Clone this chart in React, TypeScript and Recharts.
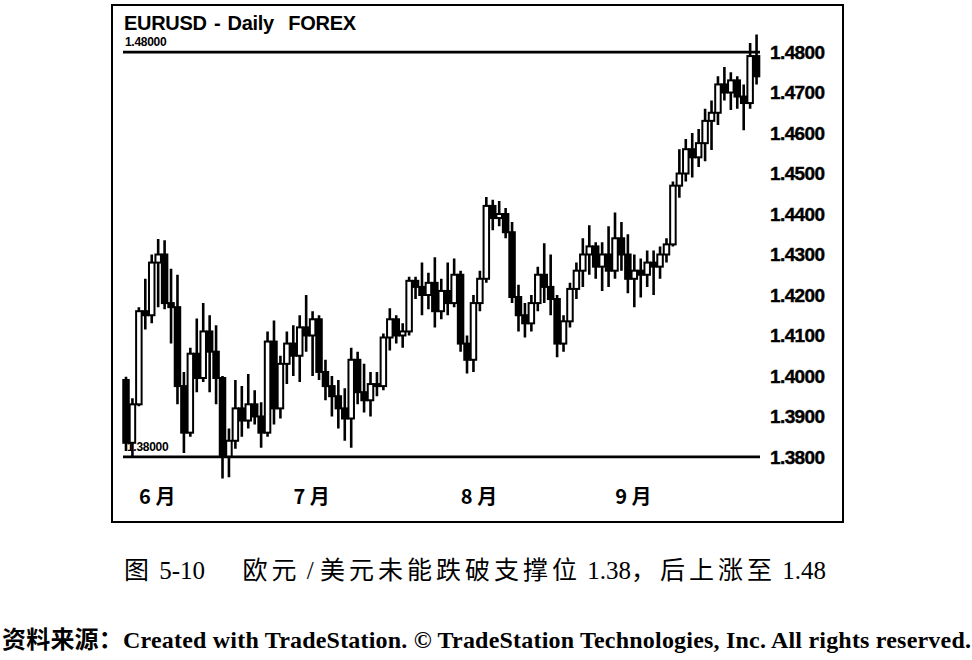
import { ComposedChart, Bar, XAxis, YAxis, ReferenceLine } from 'recharts';

// EURUSD daily, late May - late Sept
const opens = [
  1.3990, 1.3835, 1.3930, 1.4160, 1.4150, 1.4280, 1.4300, 1.4180, 1.4170, 1.3975,
  1.3860, 1.4055, 1.3995, 1.4110, 1.4060, 1.3995, 1.3800, 1.3840, 1.3920, 1.3890,
  1.3930, 1.3900, 1.3860, 1.4085, 1.3920, 1.4030, 1.4080, 1.4050, 1.4120, 1.4100,
  1.4140, 1.4010, 1.3975, 1.3950, 1.3920, 1.3895, 1.4040, 1.3960, 1.3940, 1.3980,
  1.3975, 1.4095, 1.4140, 1.4100, 1.4110, 1.4235, 1.4220, 1.4200, 1.4230, 1.4160,
  1.4210, 1.4180, 1.4250, 1.4080, 1.4040, 1.4180, 1.4240, 1.4420, 1.4390, 1.4400,
  1.4355, 1.4195, 1.4150, 1.4130, 1.4180, 1.4250, 1.4220, 1.4190, 1.4080, 1.4135,
  1.4215, 1.4260, 1.4300, 1.4320, 1.4270, 1.4300, 1.4260, 1.4340, 1.4300, 1.4240,
  1.4260, 1.4250, 1.4280, 1.4270, 1.4300, 1.4325, 1.4470, 1.4500, 1.4560, 1.4540,
  1.4575, 1.4630, 1.4650, 1.4720, 1.4700, 1.4730, 1.4690, 1.4674, 1.4790,
];
const highs = [
  1.3998, 1.3945, 1.4170, 1.4240, 1.4300, 1.4338, 1.4335, 1.4265, 1.4250, 1.4010,
  1.4070, 1.4142, 1.4180, 1.4150, 1.4125, 1.4000, 1.3870, 1.3990, 1.3975, 1.4005,
  1.3965, 1.3935, 1.4110, 1.4137, 1.4050, 1.4110, 1.4125, 1.4150, 1.4200, 1.4160,
  1.4150, 1.4040, 1.4000, 1.3990, 1.3970, 1.4070, 1.4060, 1.4030, 1.4010, 1.4010,
  1.4105, 1.4167, 1.4150, 1.4130, 1.4245, 1.4245, 1.4280, 1.4255, 1.4293, 1.4240,
  1.4280, 1.4290, 1.4260, 1.4100, 1.4200, 1.4260, 1.4442, 1.4435, 1.4432, 1.4415,
  1.4380, 1.4225, 1.4180, 1.4200, 1.4270, 1.4328, 1.4300, 1.4200, 1.4150, 1.4230,
  1.4280, 1.4340, 1.4372, 1.4330, 1.4330, 1.4370, 1.4404, 1.4380, 1.4350, 1.4300,
  1.4290, 1.4310, 1.4310, 1.4320, 1.4340, 1.4480, 1.4560, 1.4585, 1.4600, 1.4610,
  1.4660, 1.4680, 1.4740, 1.4763, 1.4750, 1.4740, 1.4720, 1.4822, 1.4843,
];
const lows = [
  1.3815, 1.3800, 1.3925, 1.4115, 1.4130, 1.4170, 1.4165, 1.4080, 1.3930, 1.3810,
  1.3850, 1.3960, 1.3985, 1.3960, 1.3930, 1.3747, 1.3750, 1.3820, 1.3850, 1.3870,
  1.3880, 1.3823, 1.3850, 1.3880, 1.3895, 1.3980, 1.4000, 1.3985, 1.4060, 1.4000,
  1.3990, 1.3940, 1.3900, 1.3870, 1.3840, 1.3823, 1.3930, 1.3910, 1.3900, 1.3950,
  1.3965, 1.4063, 1.4080, 1.4070, 1.4100, 1.4190, 1.4150, 1.4165, 1.4120, 1.4140,
  1.4150, 1.4170, 1.4060, 1.4006, 1.4010, 1.4160, 1.4230, 1.4360, 1.4370, 1.4340,
  1.4180, 1.4110, 1.4095, 1.4110, 1.4160, 1.4180, 1.4150, 1.4046, 1.4060, 1.4120,
  1.4190, 1.4220, 1.4250, 1.4240, 1.4210, 1.4220, 1.4240, 1.4260, 1.4204, 1.4170,
  1.4194, 1.4220, 1.4200, 1.4240, 1.4280, 1.4320, 1.4440, 1.4480, 1.4490, 1.4516,
  1.4530, 1.4558, 1.4620, 1.4680, 1.4657, 1.4660, 1.4607, 1.4660, 1.4720,
];
const closes = [
  1.3835, 1.3930, 1.4160, 1.4150, 1.4280, 1.4300, 1.4180, 1.4170, 1.3975, 1.3860,
  1.4055, 1.3995, 1.4110, 1.4060, 1.3995, 1.3800, 1.3840, 1.3920, 1.3890, 1.3930,
  1.3900, 1.3860, 1.4085, 1.3920, 1.4030, 1.4080, 1.4050, 1.4120, 1.4100, 1.4140,
  1.4010, 1.3975, 1.3950, 1.3920, 1.3895, 1.4040, 1.3960, 1.3940, 1.3980, 1.3975,
  1.4095, 1.4140, 1.4100, 1.4110, 1.4235, 1.4220, 1.4200, 1.4230, 1.4160, 1.4210,
  1.4180, 1.4250, 1.4080, 1.4040, 1.4180, 1.4240, 1.4420, 1.4390, 1.4400, 1.4355,
  1.4195, 1.4150, 1.4130, 1.4180, 1.4250, 1.4220, 1.4190, 1.4080, 1.4135, 1.4215,
  1.4260, 1.4300, 1.4320, 1.4270, 1.4300, 1.4260, 1.4340, 1.4300, 1.4240, 1.4260,
  1.4250, 1.4280, 1.4270, 1.4300, 1.4325, 1.4470, 1.4500, 1.4560, 1.4540, 1.4575,
  1.4630, 1.4650, 1.4720, 1.4700, 1.4730, 1.4690, 1.4674, 1.4790, 1.4740,
];

const monthStarts = [2, 26, 52, 76];
const monthLabels = ['6 月', '7 月', '8 月', '9 月'];
const priceTicks = [1.38, 1.39, 1.4, 1.41, 1.42, 1.43, 1.44, 1.45, 1.46, 1.47, 1.48];
const resistance = 1.48;
const support = 1.38;

const data = opens.map((o, i) => ({
  i,
  open: o,
  high: highs[i],
  low: lows[i],
  close: closes[i],
  range: [lows[i], highs[i]],
}));

function Candle(props: any) {
  const { x, y, width, height, payload } = props;
  if (!payload) return null;
  const { open, close, high, low } = payload;
  const h = Math.abs(height);
  const top = height < 0 ? y + height : y;
  const cx = x + width / 2;
  const k = h / (high - low || 1);
  const bTop = top + (high - Math.max(open, close)) * k;
  const bBot = top + (high - Math.min(open, close)) * k;
  const up = close >= open;
  const bw = 5.5;
  return (
    <g>
      <line x1={cx} x2={cx} y1={top} y2={top + h} stroke="#000" strokeWidth={2.6} />
      <rect
        x={cx - bw / 2}
        y={bTop}
        width={bw}
        height={Math.max(bBot - bTop, 1.5)}
        fill={up ? '#fff' : '#000'}
        stroke="#000"
        strokeWidth={2}
      />
    </g>
  );
}

function MonthTick(props: any) {
  const { x, y, payload } = props;
  const idx = monthStarts.indexOf(payload.value);
  if (idx < 0) return null;
  return (
    <text
      x={x}
      y={y + 1}
      dy="0.36em"
      textAnchor="start"
      fontFamily="'Noto Sans CJK SC', sans-serif"
      fontWeight="bold"
      fontSize={20}
      fill="#000"
    >
      {monthLabels[idx]}
    </text>
  );
}

function PriceTick(props: any) {
  const { x, y, payload } = props;
  return (
    <text
      x={x}
      y={y}
      dy="0.36em"
      textAnchor="start"
      fontFamily="'Liberation Sans', Arial, sans-serif"
      fontWeight="bold"
      fontSize={19}
      letterSpacing={-0.6}
      stroke="#000"
      strokeWidth={0.4}
      fill="#000"
    >
      {Number(payload.value).toFixed(4)}
    </text>
  );
}

function LineTag(text: string, dx: number, dy: number) {
  return (p: any) => {
    const vb = p.viewBox || {};
    return (
      <text
        x={vb.x + dx}
        y={vb.y + dy}
        fontFamily="'Liberation Sans', Arial, sans-serif"
        fontWeight="bold"
        fontSize={12}
        letterSpacing={-0.3}
        fill="#000"
      >
        {text}
      </text>
    );
  };
}

const cjk = { letterSpacing: 4 };

export default function App() {
  return (
    <div style={{ position: 'absolute', left: 0, top: 0, width: 972, height: 660, background: '#fff' }}>
      <div
        style={{
          position: 'absolute',
          left: 111,
          top: 4,
          width: 729,
          height: 515,
          border: '2px solid #000',
        }}
      />
      <div
        style={{
          position: 'absolute',
          left: 124,
          top: 12,
          fontFamily: "'Liberation Sans', Arial, sans-serif",
          fontWeight: 'bold',
          fontSize: 20,
          letterSpacing: -0.3,
          wordSpacing: 2,
          whiteSpace: 'nowrap',
        }}
      >
        EURUSD - Daily&nbsp; FOREX
      </div>
      <div style={{ position: 'absolute', left: 112, top: 5 }}>
        <ComposedChart
          width={731}
          height={517}
          data={data}
          margin={{ top: 16.66, right: 0, bottom: 0, left: 11 }}
          barCategoryGap={0}
        >
          <XAxis
            dataKey="i"
            ticks={monthStarts}
            interval={0}
            height={34.66}
            axisLine={false}
            tickLine={false}
            tick={<MonthTick />}
          />
          <YAxis
            orientation="right"
            type="number"
            domain={[1.3725, 1.4875]}
            allowDataOverflow
            ticks={priceTicks}
            interval={0}
            width={83}
            axisLine={false}
            tickLine={false}
            tickMargin={4}
            tick={<PriceTick />}
          />
          <ReferenceLine
            y={resistance}
            stroke="#000"
            strokeWidth={2.8}
            label={LineTag('1.48000', 2, -6)}
          />
          <ReferenceLine
            y={support}
            stroke="#000"
            strokeWidth={2.8}
            label={LineTag('1.38000', 4, -6)}
          />
          <Bar dataKey="range" shape={<Candle />} isAnimationActive={false} />
        </ComposedChart>
      </div>
      <div
        style={{
          position: 'absolute',
          left: 124,
          top: 556,
          fontFamily: "'Liberation Serif', 'Noto Sans CJK SC', serif",
          fontSize: 25,
          lineHeight: '30px',
          whiteSpace: 'nowrap',
          color: '#000',
        }}
      >
        <span style={cjk}>图</span> 5-10&nbsp;&nbsp;&nbsp;&nbsp;&nbsp;&nbsp;
        <span style={cjk}>欧元</span> / <span style={cjk}>美元未能跌破支撑位</span> 1.38
        <span style={cjk}>，后上涨至</span> 1.48
      </div>
      <div
        style={{
          position: 'absolute',
          left: 2,
          top: 625,
          fontFamily: "'Liberation Serif', 'Noto Sans CJK SC', serif",
          fontWeight: 'bold',
          fontSize: 24,
          letterSpacing: 0.2,
          lineHeight: '30px',
          whiteSpace: 'nowrap',
          color: '#000',
        }}
      >
        资料来源：Created with TradeStation. © TradeStation Technologies, Inc. All rights reserved.
      </div>
    </div>
  );
}
